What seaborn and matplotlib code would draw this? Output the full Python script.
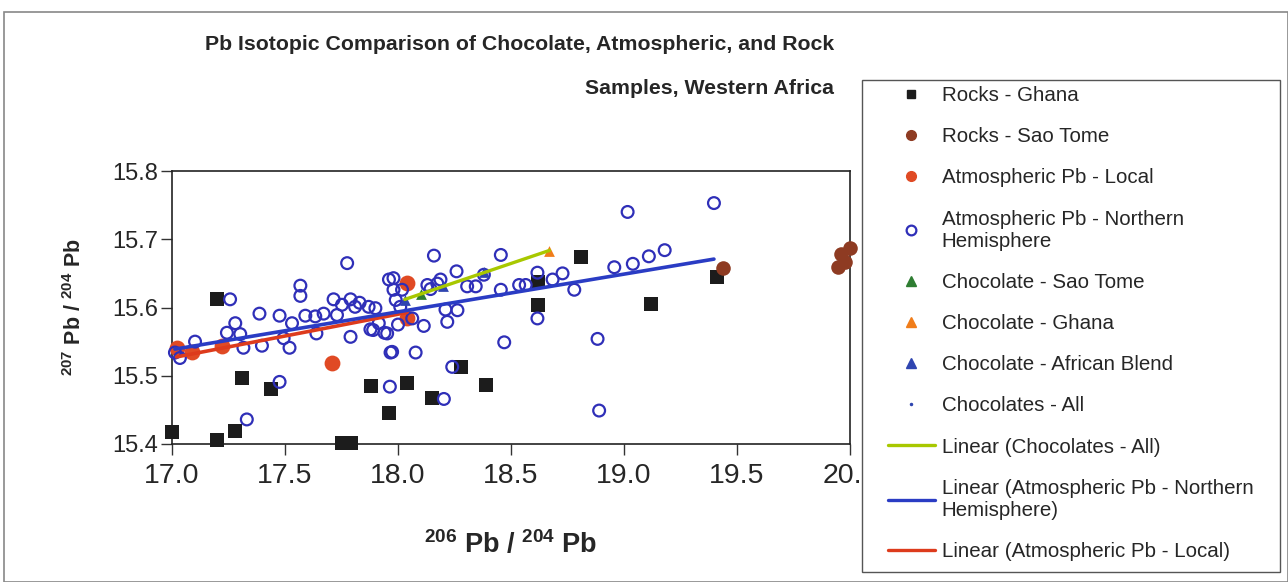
import matplotlib
matplotlib.use('Agg')
import matplotlib.pyplot as plt
import seaborn as sns
from matplotlib.lines import Line2D
from matplotlib.patches import Rectangle

# Rocks - Ghana
rocks_ghana_x = [17.00, 17.20, 17.20, 17.28, 17.31, 17.44, 17.75, 17.79, 17.88, 17.96,
                 18.04, 18.15, 18.28, 18.39, 18.62, 18.62, 18.81, 19.12, 19.41]
rocks_ghana_y = [15.417, 15.406, 15.613, 15.419, 15.497, 15.481, 15.402, 15.402, 15.485, 15.446,
                 15.490, 15.468, 15.513, 15.487, 15.638, 15.604, 15.674, 15.605, 15.645]

# Rocks - Sao Tome
rocks_st_x = [19.44, 19.945, 19.96, 19.976, 20.00]
rocks_st_y = [15.658, 15.659, 15.678, 15.667, 15.687]

# Atmospheric Pb - Local
local_x = [17.02, 17.09, 17.22, 17.71, 18.04, 18.04]
local_y = [15.540, 15.535, 15.543, 15.518, 15.585, 15.636]

# Atmospheric Pb - Northern Hemisphere
nh_x = [17.013, 17.035, 17.102, 17.257, 17.243, 17.28, 17.302, 17.316, 17.331, 17.387,
        17.398, 17.476, 17.476, 17.494, 17.52, 17.531, 17.568, 17.568, 17.59, 17.634,
        17.639, 17.671, 17.715, 17.73, 17.752, 17.775, 17.79, 17.79, 17.81, 17.83,
        17.87, 17.878, 17.90, 17.915, 17.94, 17.952, 17.96, 17.98, 17.967, 17.964,
        17.98, 17.99, 18.00, 18.01, 18.159, 18.259, 18.21, 18.263, 18.218, 18.114,
        18.063, 18.188, 18.174, 18.13, 18.144, 18.018, 18.306, 18.344, 18.455, 18.617,
        18.728, 18.684, 18.78, 18.455, 18.536, 18.565, 18.38, 18.078, 18.47, 18.617,
        18.883, 18.89, 18.203, 18.24, 19.016, 18.957, 19.039, 19.11, 19.18, 19.398,
        17.89, 17.974]
nh_y = [15.534, 15.526, 15.550, 15.612, 15.563, 15.577, 15.561, 15.541, 15.436, 15.591,
        15.544, 15.491, 15.588, 15.555, 15.541, 15.577, 15.632, 15.617, 15.588, 15.587,
        15.562, 15.591, 15.612, 15.589, 15.604, 15.665, 15.612, 15.557, 15.601, 15.607,
        15.601, 15.568, 15.599, 15.577, 15.563, 15.562, 15.641, 15.643, 15.534, 15.484,
        15.626, 15.611, 15.575, 15.601, 15.676, 15.653, 15.597, 15.596, 15.579, 15.573,
        15.584, 15.641, 15.635, 15.633, 15.627, 15.626, 15.631, 15.631, 15.677, 15.651,
        15.650, 15.641, 15.626, 15.626, 15.633, 15.633, 15.648, 15.534, 15.549, 15.584,
        15.554, 15.449, 15.466, 15.513, 15.740, 15.659, 15.664, 15.675, 15.684, 15.753,
        15.567, 15.535]

# Chocolates
choc_st_x = [18.10]
choc_st_y = [15.620]
choc_gh_x = [18.67]
choc_gh_y = [15.683]
choc_bl_x = [18.03, 18.20, 18.38]
choc_bl_y = [15.611, 15.631, 15.652]
choc_all_x = choc_st_x + choc_gh_x + choc_bl_x
choc_all_y = choc_st_y + choc_gh_y + choc_bl_y

x_ticks = [17.0, 17.5, 18.0, 18.5, 19.0, 19.5, 20.0]
y_ticks = [15.4, 15.5, 15.6, 15.7, 15.8]

legend_labels = ['Rocks - Ghana', 'Rocks - Sao Tome', 'Atmospheric Pb - Local',
                 'Atmospheric Pb - Northern\nHemisphere', 'Chocolate - Sao Tome',
                 'Chocolate - Ghana', 'Chocolate - African Blend', 'Chocolates - All',
                 'Linear (Chocolates - All)', 'Linear (Atmospheric Pb - Northern\nHemisphere)',
                 'Linear (Atmospheric Pb - Local)']

sns.set_style('white')
plt.rcParams['font.family'] = ['Liberation Sans', 'DejaVu Sans']
plt.rcParams['mathtext.fontset'] = 'custom'
plt.rcParams['mathtext.rm'] = 'Liberation Sans'
plt.rcParams['mathtext.bf'] = 'Liberation Sans:bold'

c_rock = '#1c1c1c'
c_st = '#8e3b22'
c_local = '#e04a24'
c_nh = '#2f2fb8'
c_green = '#2e7d32'
c_orange = '#f07d1a'
c_blend = '#2f45b0'
c_line_choc = '#a8c800'
c_line_nh = '#2a3cc4'
c_line_local = '#dd3b1c'

W, H = 1288, 582
fig = plt.figure(figsize=(W / 100, H / 100), dpi=100)
ax = fig.add_axes([172 / W, 1 - 444 / H, (850 - 172) / W, (444 - 171) / H])

sns.scatterplot(x=rocks_ghana_x, y=rocks_ghana_y, ax=ax, marker='s', s=100, color=c_rock,
                edgecolor=c_rock, linewidth=0, clip_on=False, zorder=3)
sns.scatterplot(x=rocks_st_x, y=rocks_st_y, ax=ax, marker='o', s=110, color=c_st,
                edgecolor=c_st, linewidth=0, clip_on=False, zorder=3)
sns.scatterplot(x=local_x, y=local_y, ax=ax, marker='o', s=130, color=c_local,
                edgecolor=c_local, linewidth=0, clip_on=False, zorder=3)
sns.scatterplot(x=nh_x, y=nh_y, ax=ax, marker='o', s=72, facecolor='none',
                edgecolor=c_nh, linewidth=1.6, clip_on=False, zorder=4)
sns.scatterplot(x=choc_st_x, y=choc_st_y, ax=ax, marker='^', s=60, color=c_green,
                linewidth=0, zorder=5)
sns.scatterplot(x=choc_gh_x, y=choc_gh_y, ax=ax, marker='^', s=60, color=c_orange,
                linewidth=0, zorder=5)
sns.scatterplot(x=choc_bl_x, y=choc_bl_y, ax=ax, marker='^', s=60, color=c_blend,
                linewidth=0, zorder=5)

# trendlines
sns.regplot(x=choc_all_x, y=choc_all_y, ax=ax, scatter=False, ci=None, truncate=True,
            line_kws={'color': c_line_choc, 'lw': 2.4, 'zorder': 6})
sns.regplot(x=nh_x, y=nh_y, ax=ax, scatter=False, ci=None, truncate=True,
            line_kws={'color': c_line_nh, 'lw': 2.6, 'zorder': 6})
sns.regplot(x=local_x, y=local_y, ax=ax, scatter=False, ci=None, truncate=True,
            line_kws={'color': c_line_local, 'lw': 2.6, 'zorder': 5.5})

ax.set_xlim(17.0, 20.0)
ax.set_ylim(15.4, 15.8)
ax.set_xticks(x_ticks)
ax.set_yticks(y_ticks)
ax.set_xticklabels([f'{t:.1f}' for t in x_ticks])
ax.set_yticklabels([f'{t:.1f}' for t in y_ticks])
ax.tick_params(axis='both', direction='out', length=8, width=1,
               color='#333333', bottom=True, left=True)
ax.tick_params(axis='x', labelsize=20.5, pad=6)
ax.tick_params(axis='y', labelsize=17, pad=2)
for sp in ax.spines.values():
    sp.set_visible(True)
    sp.set_color('#222222')
    sp.set_linewidth(1.2)

ax.set_xlabel(r'$\mathbf{^{206}}$ Pb / $\mathbf{^{204}}$ Pb', fontsize=19.5, fontweight='bold', labelpad=29)
ax.set_ylabel(r'$\mathbf{^{207}}$ Pb / $\mathbf{^{204}}$ Pb', fontsize=15.5, fontweight='bold', labelpad=19)

fig.text(834 / W, 1 - 35 / H,
         'Pb Isotopic Comparison of Chocolate, Atmospheric, and Rock\nSamples, Western Africa',
         ha='right', va='top', multialignment='right', fontsize=15.3, fontweight='bold',
         linespacing=2.7)

# legend box
fig.patches.append(Rectangle((862 / W, 1 - 572 / H), 418 / W, 492 / H,
                             transform=fig.transFigure, facecolor='white',
                             edgecolor='#555555', lw=1.0, zorder=2))

handles = [
    Line2D([], [], ls='none', marker='s', ms=6, color=c_rock),
    Line2D([], [], ls='none', marker='o', ms=7, color=c_st),
    Line2D([], [], ls='none', marker='o', ms=7, color=c_local),
    Line2D([], [], ls='none', marker='o', ms=7, mfc='none', mec=c_nh, mew=1.6),
    Line2D([], [], ls='none', marker='^', ms=7, color=c_green),
    Line2D([], [], ls='none', marker='^', ms=7, color=c_orange),
    Line2D([], [], ls='none', marker='^', ms=7, color=c_blend),
    Line2D([], [], ls='none', marker='.', ms=3, color=c_blend),
    Line2D([], [], color=c_line_choc, lw=2.4),
    Line2D([], [], color=c_line_nh, lw=2.4),
    Line2D([], [], color=c_line_local, lw=2.4),
]
leg = fig.legend(handles, legend_labels, loc='upper left',
                 bbox_to_anchor=(888 / W, 1 - 86 / H),
                 fontsize=14.8, frameon=False, labelspacing=1.08,
                 handlelength=2.28, handletextpad=0.34, borderpad=0,
                 borderaxespad=0)

fig.patches.append(Rectangle((4 / W, 0), 1 - 4 / W, 1 - 12 / H,
                             transform=fig.transFigure, fill=False,
                             edgecolor='#888888', lw=1.2, zorder=1))

fig.savefig('out.png', dpi=100, facecolor='white')
